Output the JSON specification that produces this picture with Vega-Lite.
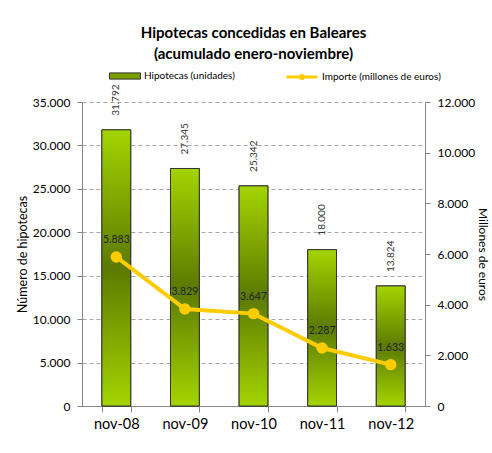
{
  "$schema": "https://vega.github.io/schema/vega-lite/v6.json",
  "width": 343,
  "height": 304,
  "autosize": {"type": "none"},
  "padding": {"left": 82, "top": 102, "right": 67, "bottom": 47},
  "background": "white",
  "config": {
    "font": "Lato",
    "locale": {"number": {"decimal": ",", "thousands": ".", "grouping": [3], "currency": ["", " €"]}},
    "view": {"stroke": null},
    "legend": {"padding": 0, "offset": 0, "labelFont": "Lato", "labelFontSize": 10, "labelColor": "#000", "title": null}
  },
  "title": {
    "text": ["Hipotecas concedidas en Baleares", "(acumulado enero-noviembre)"],
    "fontSize": 15,
    "fontWeight": "bold",
    "color": "#000",
    "lineHeight": 21,
    "anchor": "middle",
    "frame": "group",
    "offset": 3
  },
  "data": {
    "values": [
      {"mes": "nov-08", "hipotecas": 31792, "importe": 5883},
      {"mes": "nov-09", "hipotecas": 27345, "importe": 3829},
      {"mes": "nov-10", "hipotecas": 25342, "importe": 3647},
      {"mes": "nov-11", "hipotecas": 18000, "importe": 2287},
      {"mes": "nov-12", "hipotecas": 13824, "importe": 1633}
    ]
  },
  "encoding": {
    "x": {
      "field": "mes",
      "type": "nominal",
      "sort": null,
      "scale": {"paddingInner": 0.58, "paddingOuter": 0.29},
      "axis": {
        "title": null,
        "labelAngle": 0,
        "labelFontSize": 14.5,
        "labelColor": "#000",
        "labelPadding": 5,
        "tickBand": "extent",
        "tickSize": 6,
        "tickColor": "#868686",
        "domainColor": "#868686",
        "grid": false
      }
    }
  },
  "layer": [
    {
      "encoding": {
        "y": {
          "field": "hipotecas",
          "type": "quantitative",
          "scale": {"domain": [0, 35000], "nice": false},
          "axis": {
            "title": "Número de hipotecas",
            "titleFontSize": 12.5,
            "titleFontWeight": "normal",
            "titleColor": "#000",
            "titlePadding": 3,
            "values": [0, 5000, 10000, 15000, 20000, 25000, 30000, 35000],
            "format": ",d",
            "labelFontSize": 12,
            "labelColor": "#000",
            "labelPadding": 7,
            "tickSize": 5,
            "tickColor": "#868686",
            "domainColor": "#868686",
            "grid": true,
            "gridColor": "#a6a6a6",
            "gridDash": [4, 3],
            "gridWidth": 1
          }
        }
      },
      "layer": [
        {
          "mark": {"type": "bar", "stroke": "#333", "strokeWidth": 1},
          "encoding": {
            "fill": {
              "datum": "Hipotecas (unidades)",
              "type": "nominal",
              "scale": {"range": ["#7a9f00"]},
              "legend": {
                "orient": "none",
                "legendX": 32,
                "legendY": -37,
                "symbolType": "M-1.5,-0.3H1.5V0.3H-1.5Z",
                "symbolSize": 425,
                "symbolStrokeColor": "#333",
                "symbolStrokeWidth": 1,
                "labelOffset": 8
              }
            }
          }
        },
        {
          "mark": {
            "type": "bar",
            "stroke": "#333",
            "strokeWidth": 1,
            "fill": {
              "gradient": "linear",
              "x1": 0, "y1": 0, "x2": 0, "y2": 1,
              "stops": [
                {"offset": 0, "color": "#a4d400"},
                {"offset": 0.5, "color": "#5c7a00"},
                {"offset": 1, "color": "#a4d400"}
              ]
            }
          },
          "encoding": {}
        },
        {
          "mark": {"type": "text", "angle": 270, "align": "left", "baseline": "middle", "dx": 14, "fontSize": 10, "color": "#333"},
          "encoding": {"text": {"field": "hipotecas", "type": "quantitative", "format": ",d"}}
        }
      ]
    },
    {
      "encoding": {
        "y": {
          "field": "importe",
          "type": "quantitative",
          "scale": {"domain": [0, 12000], "nice": false},
          "axis": {
            "orient": "right",
            "title": "Millones de euros",
            "titleFontSize": 12,
            "titleFontWeight": "normal",
            "titleColor": "#000",
            "titlePadding": 1,
            "values": [0, 2000, 4000, 6000, 8000, 10000, 12000],
            "format": ",d",
            "labelFontSize": 12,
            "labelColor": "#000",
            "labelPadding": 7,
            "tickSize": 5,
            "tickColor": "#868686",
            "domainColor": "#868686",
            "grid": false
          }
        }
      },
      "layer": [
        {
          "mark": {"type": "line", "strokeWidth": 4},
          "encoding": {
            "stroke": {
              "datum": "Importe (millones de euros)",
              "type": "nominal",
              "scale": {"range": ["#ffcc00"]},
              "legend": {
                "orient": "none",
                "legendX": 208,
                "legendY": -37,
                "symbolType": "M-1.5,0H1.5M0.15,0A0.15,0.15,0,1,1,-0.15,0A0.15,0.15,0,1,1,0.15,0",
                "symbolSize": 425,
                "symbolStrokeWidth": 3,
                "labelOffset": 8
              }
            }
          }
        },
        {
          "mark": {"type": "point", "filled": true, "size": 130, "color": "#ffcc00", "opacity": 1},
          "encoding": {}
        },
        {
          "mark": {"type": "text", "baseline": "bottom", "dy": -12, "fontSize": 10.5, "color": "#222"},
          "encoding": {"text": {"field": "importe", "type": "quantitative", "format": ",d"}}
        }
      ]
    }
  ],
  "resolve": {"scale": {"y": "independent", "fill": "independent", "stroke": "independent"}}
}
